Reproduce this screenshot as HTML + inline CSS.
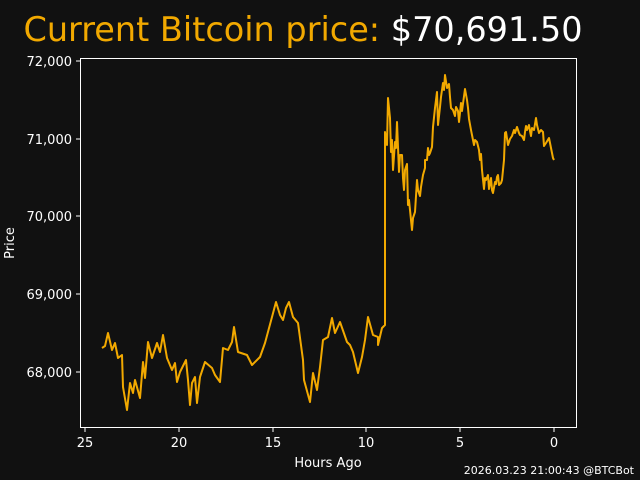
<!DOCTYPE html>
<html><head><style>
body{margin:0;background:#111;}
svg{display:block;font-family:"DejaVu Sans","Liberation Sans",sans-serif;}
</style></head><body>
<svg width="640" height="480" viewBox="0 0 640 480">
<rect width="640" height="480" fill="#111"/>
<text x="303" y="41" text-anchor="middle" font-size="33.5"><tspan fill="#f2a900">Current Bitcoin price: </tspan><tspan fill="#fff">$70,691.50</tspan></text>
<rect x="80.5" y="58.5" width="496" height="369" fill="none" stroke="#fff" stroke-width="1"/>
<g stroke="#fff" stroke-width="1">
<line x1="76" y1="61" x2="80" y2="61"/><line x1="76" y1="139" x2="80" y2="139"/><line x1="76" y1="216" x2="80" y2="216"/><line x1="76" y1="294" x2="80" y2="294"/><line x1="76" y1="372" x2="80" y2="372"/>
<line x1="85" y1="428" x2="85" y2="432"/><line x1="179" y1="428" x2="179" y2="432"/><line x1="273" y1="428" x2="273" y2="432"/><line x1="366" y1="428" x2="366" y2="432"/><line x1="460" y1="428" x2="460" y2="432"/><line x1="554" y1="428" x2="554" y2="432"/>
</g>
<g fill="#fff" font-size="13" text-anchor="end">
<text x="72" y="66">72,000</text><text x="72" y="144">71,000</text><text x="72" y="221">70,000</text><text x="72" y="299">69,000</text><text x="72" y="377">68,000</text>
</g>
<g fill="#fff" font-size="13" text-anchor="middle">
<text x="85" y="447">25</text><text x="179" y="447">20</text><text x="273" y="447">15</text><text x="366" y="447">10</text><text x="460" y="447">5</text><text x="554" y="447">0</text>
<text x="328" y="467">Hours Ago</text>
<text transform="translate(14,243) rotate(-90)">Price</text>
</g>
<text x="634" y="474" fill="#fff" font-size="11" text-anchor="end">2026.03.23 21:00:43 @BTCBot</text>
<polyline fill="none" stroke="#f2a900" stroke-width="2" stroke-linejoin="round" points="102,348 105,346 108,333 112,350 115,343 118,358 122,355 123,387 127,410 130,383 133,393 135,380 140,398 143,362 145,378 148,342 152,358 157,343 160,352 163,335 167,358 172,370 175,363 177,382 180,372 186,360 188,380 190,405 192,383 195,377 197,403 200,377 205,362 212,368 215,375 220,382 223,348 228,350 232,342 234,327 238,352 247,355 252,365 260,357 265,343 272,317 276,302 280,315 283,320 286,308 289,302 293,317 298,323 303,360 304,380 310,402 313,373 317,390 320,367 323,340 328,337 332,318 335,333 340,322 347,342 350,345 353,352 358,373 362,357 365,340 368,317 373,335 378,337 378,345 382,328 385,325 385,132 387,145 388,98 390,118 391,152 392,140 393,170 395,142 396,148 397,122 399,172 400,155 402,155 403,178 404,190 405,170 407,164 408,205 409,200 411,220 412,230 413,218 415,212 416,196 417,180 418,190 420,196 421,187 423,175 425,168 425,160 427,160 428,148 429,155 430,153 432,147 433,127 435,108 437,92 438,125 440,107 441,97 443,83 444,90 445,75 447,88 449,84 450,97 451,108 453,110 455,116 456,107 458,111 459,122 460,113 461,103 462,111 465,89 467,100 468,108 469,119 471,130 472,135 474,145 475,140 477,142 479,150 480,160 481,154 482,170 484,189 485,178 486,180 488,175 489,189 491,178 492,190 493,193 495,182 496,184 497,177 498,175 499,185 501,183 502,180 504,160 505,133 506,132 508,145 510,139 512,136 514,130 515,133 517,127 519,133 520,135 522,136 524,140 525,132 526,126 527,130 529,125 530,131 531,136 532,128 534,130 536,118 537,125 539,133 541,130 543,132 544,146 546,143 549,138 551,148 552,153 553,158 554,160"/>
</svg>
</body></html>
